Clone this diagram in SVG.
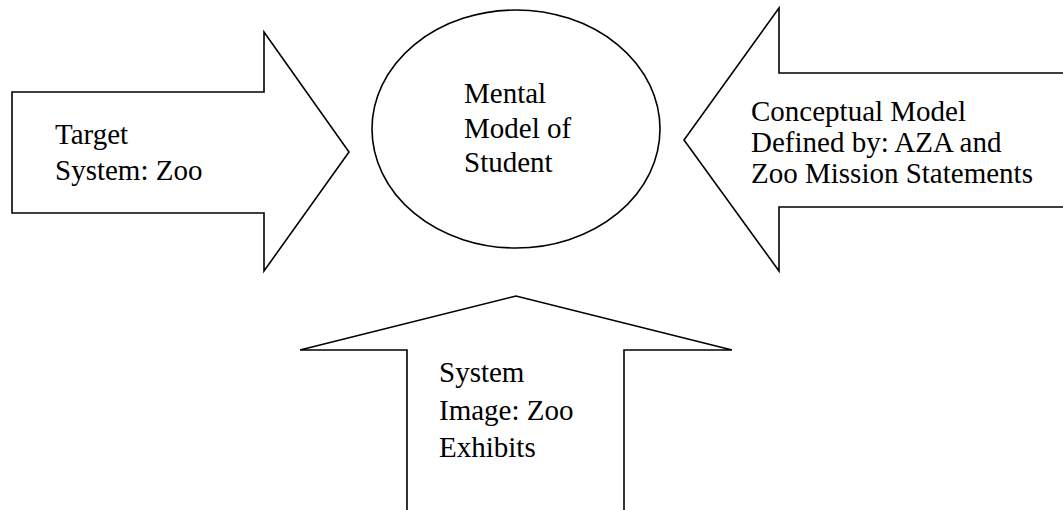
<svg xmlns="http://www.w3.org/2000/svg" width="1063" height="510" viewBox="0 0 1063 510">
  <style>
    .shape { fill: #ffffff; stroke: #000000; stroke-width: 1.6; stroke-linejoin: miter; }
    .label { font-family: "Liberation Serif", "Times New Roman", serif; font-size: 29px; fill: #000000; }
  </style>
  <rect width="1063" height="510" fill="#ffffff"/>

  <!-- Left block arrow pointing right -->
  <g id="target-system">
    <polygon class="shape" points="12,92 264,92 264,32 349,152 264,271 264,213 12,213"/>
    <text class="label" x="55" y="144">Target</text>
    <text class="label" x="55" y="180">System: Zoo</text>
  </g>

  <!-- Central ellipse -->
  <g id="mental-model">
    <ellipse class="shape" cx="516" cy="129" rx="144" ry="119"/>
    <text class="label" x="464" y="103">Mental</text>
    <text class="label" x="464" y="138">Model of</text>
    <text class="label" x="464" y="172">Student</text>
  </g>

  <!-- Right block arrow pointing left -->
  <g id="conceptual-model">
    <polygon class="shape" points="1075,73 779,73 779,8 684,140 779,271 779,207 1075,207"/>
    <text class="label" x="751" y="121">Conceptual Model</text>
    <text class="label" x="751" y="152">Defined by: AZA and</text>
    <text class="label" x="751" y="183">Zoo Mission Statements</text>
  </g>

  <!-- Bottom block arrow pointing up -->
  <g id="system-image">
    <polygon class="shape" points="407,520 407,350 300,350 516,296 732,350 624,350 624,520"/>
    <text class="label" x="439" y="382">System</text>
    <text class="label" x="439" y="420">Image: Zoo</text>
    <text class="label" x="439" y="457">Exhibits</text>
  </g>

  <g id="connectors"></g>
</svg>
